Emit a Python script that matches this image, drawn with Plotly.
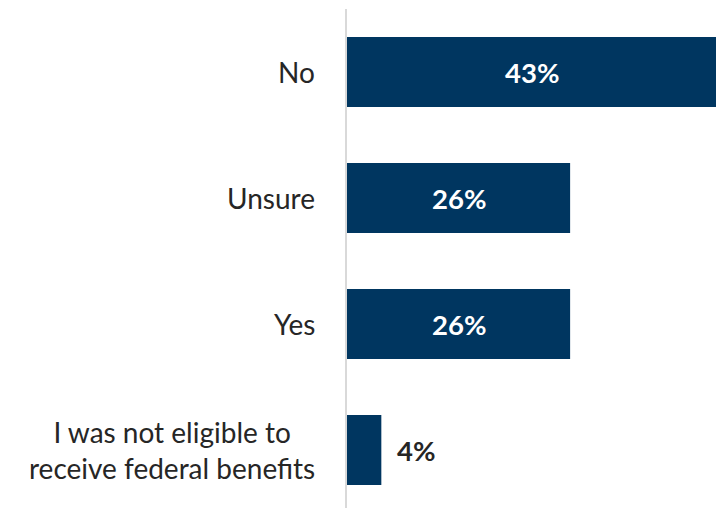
import plotly.graph_objects as go

categories = ["No", "Unsure", "Yes", "I was not eligible to<br>receive federal benefits"]
values = [43, 26, 26, 4]
labels = ["43%", "26%", "26%", "4%"]
inside = [True, True, True, False]

bar_color = "#003660"
text_dark = "#262626"
font_family = "Lato, Liberation Sans, sans-serif"

fig = go.Figure()
fig.add_trace(go.Bar(
    x=values, y=categories, orientation="h",
    marker=dict(color=bar_color, line=dict(width=0)),
    hoverinfo="skip",
))

annotations = []
for cat, v, lab, ins in zip(categories, values, labels, inside):
    if ins:
        annotations.append(dict(x=v / 2, y=cat, xref="x", yref="y", text="<b>%s</b>" % lab,
                                showarrow=False, xanchor="center", yanchor="middle",
                                font=dict(family=font_family, size=27.5, color="white")))
    else:
        annotations.append(dict(x=v, y=cat, xref="x", yref="y", text="<b>%s</b>" % lab,
                                showarrow=False, xanchor="left", yanchor="middle", xshift=14,
                                font=dict(family=font_family, size=27.5, color=text_dark)))
    annotations.append(dict(x=0, y=cat, xref="paper", yref="y", text=cat,
                            showarrow=False, xanchor="right", yanchor="middle", xshift=-30,
                            align="center",
                            font=dict(family=font_family, size=28, color=text_dark)))

fig.update_layout(
    width=716, height=508,
    margin=dict(l=347, r=0, t=9, b=0),
    paper_bgcolor="white", plot_bgcolor="white",
    bargap=0.444,
    showlegend=False,
    annotations=annotations,
    xaxis=dict(range=[0, 43], visible=False, fixedrange=True),
    yaxis=dict(categoryorder="array", categoryarray=categories,
               range=[3.46, -0.5], showticklabels=False, ticks="",
               showline=True, linecolor="#d9d9d9", linewidth=2,
               showgrid=False, zeroline=False, fixedrange=True),
)

fig.write_html("out.html", config={"displayModeBar": False})
